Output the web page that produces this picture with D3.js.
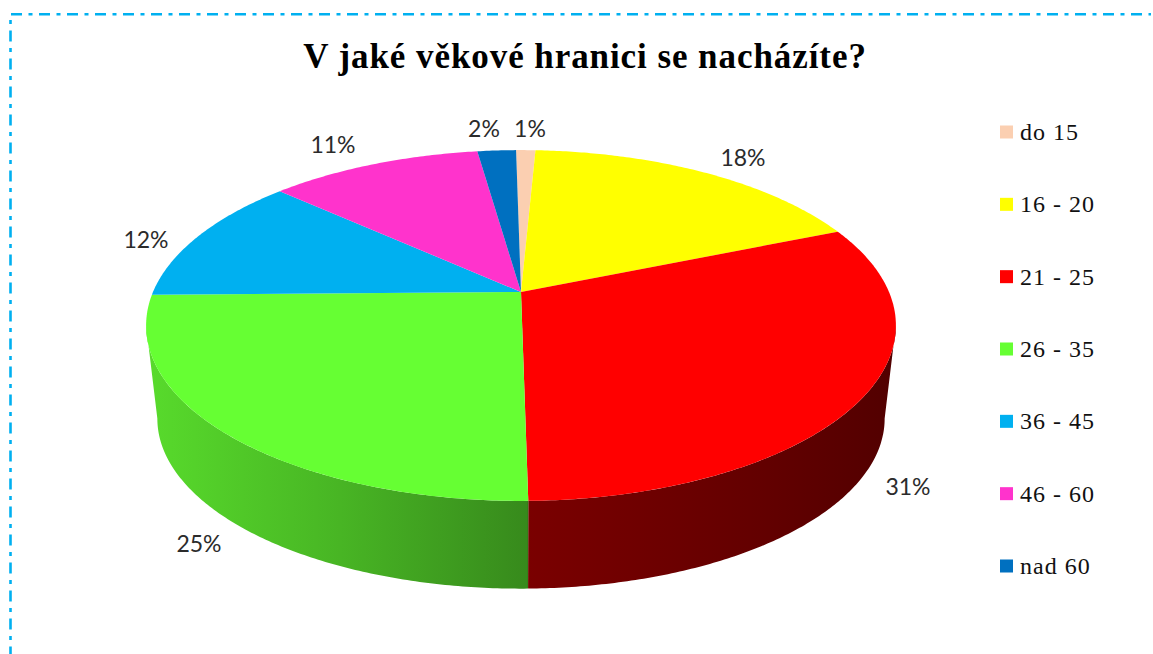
<!DOCTYPE html>
<html><head><meta charset="utf-8">
<script src="https://cdn.jsdelivr.net/npm/d3@7"></script>
<style>
html,body{margin:0;padding:0;background:#fff;overflow:hidden}
svg{display:block}
text{fill:#000}
</style></head>
<body>
<svg id="chart" width="1153" height="654"></svg>
<script>
const title = "V jaké věkové hranici se nacházíte?";
const categories = ["do 15","16 - 20","21 - 25","26 - 35","36 - 45","46 - 60","nad 60"];
const shares = [1,18,31,25,12,11,2];
const sliceColors = ["#fbcfb1","#ffff00","#ff0000","#66ff33","#00b0f0","#ff33cc","#0070c0"];
// Label anchor of each share, as the centre of its text
const labelPositions = [[530,128],[743,157],[908,486],[199,543],[146,239],[333,144],[484,128]];

const svg = d3.select("#chart");
const W = 1153, H = 654;
const TAU = Math.PI*2;

// Disc projection: tilted circle seen in perspective
const apex = {x:521, y:292}, base = {x:521, y:386};
const lateral = 368, radial = 169, foreshorten = 0.191, baseScale = 0.97;
const rim = (t, c=apex, s=1) => {
  const w = 1 + foreshorten*Math.cos(t);
  return [c.x + s*lateral*Math.sin(t)/w, c.y - s*radial*Math.cos(t)/w];
};

const angles = d3.pie().sort(null).value(d=>d)
  .startAngle(-0.016).endAngle(TAU-0.016)(shares);

const arcPoints = (a,b,c,s) => {
  const n = Math.max(2, Math.ceil(Math.abs(b-a)/0.01));
  return d3.range(n+1).map(i => rim(a+(b-a)*i/n, c, s));
};
const line = d3.line();

// The drum wall only shows between the two silhouette angles
const silhouette = Math.acos(-foreshorten);
const wallSpan = d => [Math.max(d.startAngle, silhouette), Math.min(d.endAngle, TAU-silhouette)];

// Side wall shading runs left to right across the drum
const shadeStops = [[146,0.86],[340,0.71],[527,0.54],[528,0.48],[760,0.39],[895,0.32]];
const defs = svg.append("defs");
sliceColors.forEach((col,i)=>{
  const g = defs.append("linearGradient").attr("id","wall"+i)
    .attr("gradientUnits","userSpaceOnUse")
    .attr("x1",146).attr("x2",895).attr("y1",0).attr("y2",0);
  const c = d3.rgb(col);
  shadeStops.forEach(([x,k])=>{
    g.append("stop").attr("offset",(x-146)/(895-146))
     .attr("stop-color",d3.rgb(c.r*k,c.g*k,c.b*k).formatHex());
  });
});

// Drum wall, then the top face of every slice
const pie = svg.append("g");
pie.selectAll("path.wall").data(angles.filter(d=>{const [a,b]=wallSpan(d);return b>a;}))
  .join("path").attr("class","wall")
  .attr("d",d=>{
    const [a,b] = wallSpan(d);
    return line([...arcPoints(a,b,apex,1),...arcPoints(b,a,base,baseScale)])+"Z";
  })
  .attr("fill",d=>`url(#wall${d.index})`);
pie.selectAll("path.face").data(angles).join("path").attr("class","face")
  .attr("d",d=>line([[apex.x,apex.y],...arcPoints(d.startAngle,d.endAngle,apex,1)])+"Z")
  .attr("fill",d=>sliceColors[d.index]);

// Percentage labels
svg.selectAll("text.pct").data(shares).join("text").attr("class","pct")
  .attr("x",(d,i)=>labelPositions[i][0]).attr("y",(d,i)=>labelPositions[i][1])
  .attr("text-anchor","middle").attr("dominant-baseline","central")
  .style("font","23px Lato, sans-serif").style("fill","#2b2b2b")
  .text(d=>d+"%");

// Title
svg.append("text").attr("x",585).attr("y",68).attr("text-anchor","middle")
  .style("font","bold 35px 'Liberation Serif', serif").style("letter-spacing","0.93px")
  .text(title);

// Legend
const legendY = d3.scalePoint().domain(categories).range([132,566]);
const legend = svg.selectAll("g.key").data(categories).join("g").attr("class","key")
  .attr("transform",d=>`translate(1000,${legendY(d)})`);
legend.append("rect").attr("y",-6.5).attr("width",13).attr("height",13)
  .attr("fill",(d,i)=>sliceColors[i]);
legend.append("text").attr("x",20).attr("y",8)
  .style("font","24px 'Liberation Serif', serif").style("letter-spacing","1px")
  .style("fill","#111").text(d=>d);

// Dash-dot frame along the top and left edges
const frame = {stroke:"#00b0f0","stroke-width":2.6,"stroke-dasharray":"11 6.5 4 6.5",fill:"none"};
const topEdge = svg.append("line").attr("x1",11).attr("x2",W-2).attr("y1",14.3).attr("y2",14.3);
const leftEdge = svg.append("line").attr("x1",10.5).attr("x2",10.5).attr("y1",20).attr("y2",H)
  .attr("stroke-dashoffset",17.5);
[topEdge,leftEdge].forEach(s=>Object.entries(frame).forEach(([k,v])=>s.attr(k,v)));
</script>
</body></html>
